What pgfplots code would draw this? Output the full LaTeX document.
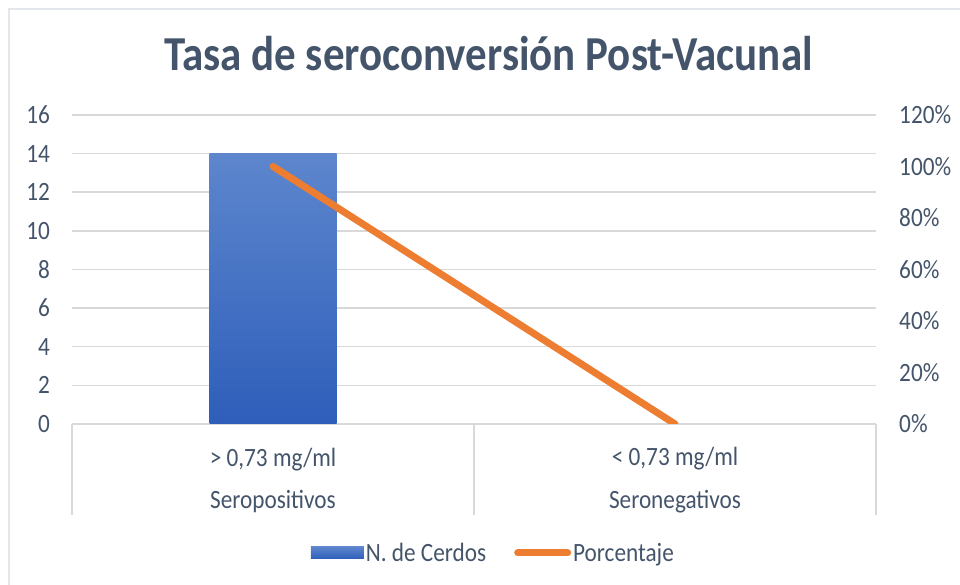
\documentclass[border=0pt]{standalone}
\usepackage{pgfplots}
\pgfplotsset{compat=1.18}
\usepackage{fontspec}
\setmainfont{Carlito}[FakeStretch=0.88]
\definecolor{txt}{HTML}{44546A}
\definecolor{gridc}{HTML}{D9D9D9}
\definecolor{bordc}{HTML}{E3E6EA}
\definecolor{orng}{HTML}{ED7D31}
\definecolor{btop}{HTML}{5D86CD}
\definecolor{bbot}{HTML}{2E5EBA}
\begin{document}
\begin{tikzpicture}[x=1bp,y=1bp]
\useasboundingbox (0,0) rectangle (960,585);
\draw[bordc, line width=2bp] (9,0) -- (9,576) -- (960,576);
\node[font=\fontsize{49}{58}\selectfont\bfseries, text=txt, anchor=base] at (488.5,514) {Tasa de seroconversión Post-Vacunal};
\begin{axis}[
  at={(72bp,161bp)}, anchor=south west, scale only axis,
  width=804bp, height=309bp,
  xmin=-0.5, xmax=1.5, ymin=0, ymax=16,
  axis x line*=bottom, axis y line*=left,
  y axis line style={draw=none},
  x axis line style={gridc, line width=1.5bp},
  ytick={0,2,...,16},
  ymajorgrids, grid style={gridc, line width=1.5bp},
  xtick={0,1},
  xticklabels={{> 0,73 mg/ml\\Seropositivos},{< 0,73 mg/ml\\Seronegativos}},
  major tick length=0pt, tick style={draw=none},
  ticklabel style={font=\fontsize{26.5}{43}\selectfont, text=txt, inner sep=0pt},
  yticklabel style={anchor=east, xshift=-22bp},
  xticklabel style={align=center, anchor=center, yshift=-56.5bp},
  /pgf/number format/assume math mode=true,
  clip=false,
  legend columns=2,
  legend style={draw=none, fill=none, at={(0.524,-0.417)}, anchor=center,
    font=\fontsize{26.5}{30}\selectfont, text=txt,
    nodes={inner sep=2bp},
    /tikz/every even column/.append style={column sep=26bp}},
]
\addplot[ybar, bar width=127bp, bar shift=0pt, draw=none, top color=btop, bottom color=bbot,
  legend image code/.code={\fill[top color=btop, bottom color=bbot] (0bp,-6bp) rectangle (53bp,6bp);}]
  coordinates {(0,14)};
\addlegendentry{N. de Cerdos}
\addlegendimage{legend image code/.code={\draw[orng, line width=7bp, line cap=round] (3bp,0bp) -- (53bp,0bp);}}
\addlegendentry{Porcentaje}
\draw[gridc, line width=1.5bp] (axis cs:-0.5,0) -- ++(0bp,-91bp);
\draw[gridc, line width=1.5bp] (axis cs:0.5,0) -- ++(0bp,-91bp);
\draw[gridc, line width=1.5bp] (axis cs:1.5,0) -- ++(0bp,-91bp);
\end{axis}
\begin{axis}[
  at={(72bp,161bp)}, anchor=south west, scale only axis,
  width=804bp, height=309bp,
  xmin=-0.5, xmax=1.5, ymin=0, ymax=120,
  axis x line=none, axis y line*=right,
  y axis line style={draw=none},
  ytick={0,20,...,120},
  yticklabel={\pgfmathprintnumber{\tick}\%},
  major tick length=0pt, tick style={draw=none},
  ticklabel style={font=\fontsize{26.5}{30}\selectfont, text=txt, inner sep=0pt},
  yticklabel style={anchor=west, xshift=23bp},
  /pgf/number format/assume math mode=true,
]
\addplot[orng, line width=7bp, line cap=round] coordinates {(0,100) (1,0)};
\end{axis}
\end{tikzpicture}
\end{document}
